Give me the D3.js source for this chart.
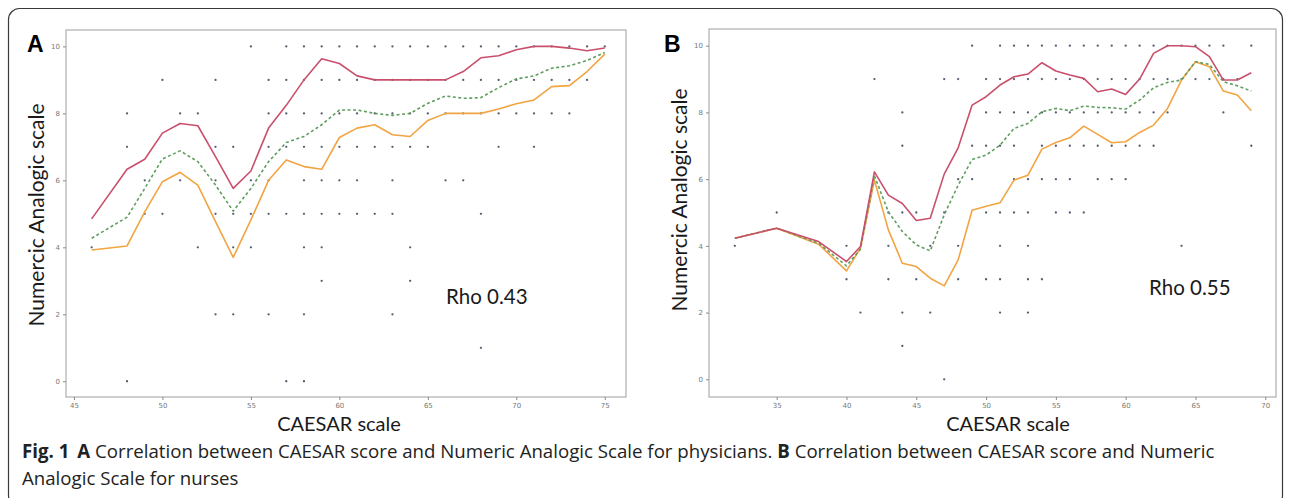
<!DOCTYPE html>
<html>
<head>
<meta charset="utf-8">
<script src="https://cdn.jsdelivr.net/npm/d3@7"></script>
<style>
  body { margin: 0; background: #fff; }
  svg { display: block; }
</style>
</head>
<body>
<script>
//------------------------------------------------------------------------------
// Data
//------------------------------------------------------------------------------

// Panel A (physicians)
var xA = [46, 48, 49, 50, 51, 52, 53, 54, 55, 56, 57, 58, 59, 60, 61, 62, 63, 64, 65, 66, 67, 68, 69, 70, 71, 72, 73, 74, 75];
var upperA = [4.85, 6.33, 6.63, 7.41, 7.70, 7.63, 6.71, 5.76, 6.28, 7.56, 8.24, 9.0, 9.63, 9.49, 9.12, 9.0, 9.0, 9.0, 9.0, 9.0, 9.25, 9.66, 9.72, 9.9, 10, 10, 9.95, 9.87, 9.95];
var meanA = [4.27, 4.9, 5.76, 6.64, 6.88, 6.56, 5.86, 5.08, 5.76, 6.56, 7.13, 7.31, 7.66, 8.1, 8.1, 8.0, 7.94, 8.0, 8.3, 8.52, 8.45, 8.47, 8.77, 9.03, 9.12, 9.35, 9.42, 9.58, 9.82];
var lowerA = [3.92, 4.04, 5.06, 5.96, 6.24, 5.86, 4.77, 3.70, 4.82, 6.0, 6.61, 6.41, 6.33, 7.28, 7.56, 7.66, 7.36, 7.31, 7.79, 8.0, 8.0, 8.0, 8.13, 8.29, 8.4, 8.8, 8.83, 9.25, 9.77];
// scatter points, one row per NAS value: [nas, [caesar scores]]
var dotsA = [
  [10, [55, 57, 58, 59, 60, 61, 62, 63, 64, 65, 66, 67, 68, 69, 70, 71, 72, 73, 74, 75]],
  [9, [50, 53, 56, 57, 58, 59, 60, 61, 62, 63, 64, 65, 66, 67, 68, 69, 70, 71, 72, 73, 74]],
  [8, [48, 51, 52, 56, 57, 58, 59, 60, 61, 62, 63, 64, 65, 66, 67, 68, 69, 70, 71, 72, 73]],
  [7, [48, 53, 54, 56, 57, 58, 59, 60, 61, 62, 63, 64, 65, 69, 71]],
  [6, [49, 51, 53, 55, 56, 58, 59, 60, 61, 63, 66, 67]],
  [5, [49, 50, 53, 54, 55, 56, 57, 58, 59, 60, 61, 62, 63, 68]],
  [4, [46, 52, 54, 55, 58, 59, 64]],
  [3, [59, 64]],
  [2, [53, 54, 56, 58, 63]],
  [1, [68]],
  [0, [48, 57, 58]]
];

// Panel B (nurses)
var xB = [32, 35, 38, 40, 41, 42, 43, 44, 45, 46, 47, 48, 49, 50, 51, 52, 53, 54, 55, 56, 57, 58, 59, 60, 61, 62, 63, 64, 65, 66, 67, 68, 69];
var upperB = [4.23, 4.53, 4.13, 3.53, 3.98, 6.22, 5.52, 5.27, 4.76, 4.83, 6.15, 6.94, 8.22, 8.47, 8.82, 9.07, 9.15, 9.49, 9.24, 9.12, 9.02, 8.62, 8.70, 8.54, 9.0, 9.77, 10, 10, 9.97, 9.67, 8.97, 8.97, 9.19];
var meanB = [4.23, 4.53, 4.08, 3.40, 3.90, 6.10, 5.02, 4.43, 4.03, 3.85, 4.93, 5.82, 6.59, 6.72, 7.02, 7.52, 7.67, 8.02, 8.12, 8.05, 8.19, 8.15, 8.14, 8.10, 8.37, 8.74, 8.90, 8.97, 9.52, 9.44, 8.92, 8.80, 8.64];
var lowerB = [4.23, 4.53, 4.05, 3.25, 3.93, 5.97, 4.48, 3.48, 3.38, 3.03, 2.80, 3.58, 5.07, 5.19, 5.29, 5.97, 6.12, 6.90, 7.10, 7.24, 7.59, 7.34, 7.09, 7.12, 7.40, 7.62, 8.12, 8.97, 9.52, 9.37, 8.64, 8.52, 8.05];
var dotsB = [
  [10, [49, 51, 52, 53, 54, 55, 56, 57, 58, 59, 60, 61, 62, 63, 64, 65, 66, 67, 69]],
  [9, [42, 47, 48, 50, 51, 52, 53, 54, 55, 56, 57, 58, 59, 60, 61, 62, 63, 64, 65, 66, 67, 68]],
  [8, [44, 50, 51, 52, 53, 54, 55, 56, 57, 58, 59, 60, 61, 62, 63, 67]],
  [7, [44, 49, 50, 51, 52, 54, 55, 56, 57, 58, 59, 60, 61, 62, 69]],
  [6, [48, 49, 52, 53, 54, 55, 56, 58, 59, 60]],
  [5, [35, 43, 44, 45, 47, 50, 51, 52, 53, 55, 56, 57]],
  [4, [32, 40, 43, 46, 48, 51, 53, 64]],
  [3, [40, 43, 45, 48, 50, 51, 53, 54]],
  [2, [41, 44, 46, 51, 53]],
  [1, [44]],
  [0, [47]]
];

var yTicks = [0, 2, 4, 6, 8, 10];
var xTicksA = [45, 50, 55, 60, 65, 70, 75];
var xTicksB = [35, 40, 45, 50, 55, 60, 65, 70];

//------------------------------------------------------------------------------
// Drawing
//------------------------------------------------------------------------------

var W = 1290, H = 498;
var svg = d3.select("body").append("svg")
  .attr("width", W)
  .attr("height", H);

// figure box
svg.append("rect")
  .attr("x", 8.5).attr("y", 8.5)
  .attr("width", 1274).attr("height", 498)
  .attr("rx", 11).attr("ry", 11)
  .attr("fill", "none")
  .attr("stroke", "#3a3a3a")
  .attr("stroke-width", 1.2);

var colors = { upper: "#c9506c", mean: "#5f9e5f", lower: "#f2a443" };

function drawPanel(p) {
  var x = d3.scaleLinear().domain(p.xDomain).range([p.left, p.right]);
  var y = d3.scaleLinear().domain(p.yDomain).range([p.bottom, p.top]);
  var g = svg.append("g");

  // plot frame
  g.append("rect")
    .attr("x", p.left).attr("y", p.top)
    .attr("width", p.right - p.left).attr("height", p.bottom - p.top)
    .attr("fill", "none")
    .attr("stroke", "#b4b4b4")
    .attr("stroke-width", 1.3);

  var xAxis = d3.axisBottom(x).tickValues(p.xTicks).tickSize(3).tickPadding(3);
  var yAxis = d3.axisLeft(y).tickValues(yTicks).tickSize(3).tickPadding(3);

  g.append("g")
    .attr("transform", "translate(0," + p.bottom + ")")
    .call(xAxis)
    .call(styleAxis);
  g.append("g")
    .attr("transform", "translate(" + p.left + ",0)")
    .call(yAxis)
    .call(styleAxis);

  // scatter
  var pts = [];
  p.dots.forEach(function(row) {
    row[1].forEach(function(v) { pts.push([v, row[0]]); });
  });
  g.selectAll(".dot")
    .data(pts)
    .enter().append("circle")
    .attr("class", "dot")
    .attr("cx", function(d) { return x(d[0]); })
    .attr("cy", function(d) { return y(d[1]); })
    .attr("r", 1.15)
    .attr("fill", "#535c70");

  var line = d3.line()
    .x(function(d) { return x(d[0]); })
    .y(function(d) { return y(d[1]); });

  [["lower", p.lower, null], ["mean", p.mean, "3,2.5"], ["upper", p.upper, null]].forEach(function(s) {
    g.append("path")
      .datum(p.xs.map(function(v, i) { return [v, s[1][i]]; }))
      .attr("d", line)
      .attr("fill", "none")
      .attr("stroke", colors[s[0]])
      .attr("stroke-width", 1.6)
      .attr("stroke-dasharray", s[2])
      .attr("stroke-linejoin", "round");
  });

  // labels
  svg.append("text")
    .attr("x", p.letterX).attr("y", 52)
    .attr("font-family", "Liberation Sans, Arial, sans-serif")
    .attr("font-weight", "bold")
    .attr("font-size", 23)
    .text(p.letter);

  svg.append("text")
    .attr("transform", "translate(" + p.yTitleX + "," + p.yTitleY + ") rotate(-90)")
    .attr("text-anchor", "middle")
    .attr("font-family", "Lato, sans-serif")
    .attr("font-size", 21)
    .attr("fill", "#1a1a1a")
    .text("Numercic Analogic scale");

  svg.append("text")
    .attr("x", p.xTitleX).attr("y", 431)
    .attr("text-anchor", "middle")
    .attr("font-family", "Lato, sans-serif")
    .attr("font-size", 20)
    .attr("fill", "#1a1a1a")
    .text("CAESAR scale");

  svg.append("text")
    .attr("x", p.rhoX).attr("y", p.rhoY)
    .attr("font-family", "Lato, sans-serif")
    .attr("font-size", 20.5)
    .attr("fill", "#1a1a1a")
    .text(p.rho);
}

function styleAxis(sel) {
  sel.select(".domain").remove();
  sel.selectAll(".tick line").attr("stroke", "#888");
  sel.selectAll(".tick text")
    .attr("fill", "#777")
    .attr("font-size", 7)
    .attr("font-family", "DejaVu Sans, sans-serif");
}

drawPanel({
  letter: "A", letterX: 27,
  left: 66, right: 626, top: 30, bottom: 397,
  xDomain: [44.55, 76.2], yDomain: [-0.47, 10.49],
  xTicks: xTicksA,
  xs: xA, upper: upperA, mean: meanA, lower: lowerA, dots: dotsA,
  yTitleX: 44, yTitleY: 215, xTitleX: 339,
  rho: "Rho 0.43", rhoX: 446, rhoY: 304
});

drawPanel({
  letter: "B", letterX: 664,
  left: 709, right: 1276, top: 29, bottom: 397,
  xDomain: [30.15, 70.77], yDomain: [-0.53, 10.5],
  xTicks: xTicksB,
  xs: xB, upper: upperB, mean: meanB, lower: lowerB, dots: dotsB,
  yTitleX: 687, yTitleY: 200, xTitleX: 1008,
  rho: "Rho 0.55", rhoX: 1149, rhoY: 295
});

// caption: font sized so the first line ends where the reference one does
var cap = svg.append("g")
  .attr("font-family", "Open Sans, sans-serif")
  .attr("font-size", 16)
  .attr("fill", "#222");

var line1 = cap.append("text").attr("x", 22).attr("y", 458);
line1.append("tspan").attr("font-weight", "bold").text("Fig. 1");
line1.append("tspan").attr("font-weight", "bold").attr("dx", 8).text("A");
line1.append("tspan").text(" Correlation between CAESAR score and Numeric Analogic Scale for physicians. ");
line1.append("tspan").attr("font-weight", "bold").text("B");
line1.append("tspan").text(" Correlation between CAESAR score and Numeric");

var natural = line1.node().getComputedTextLength();
cap.attr("font-size", Math.min(19, 16 * 1185 / natural));

cap.append("text").attr("x", 22).attr("y", 485)
  .text("Analogic Scale for nurses");
</script>
</body>
</html>
